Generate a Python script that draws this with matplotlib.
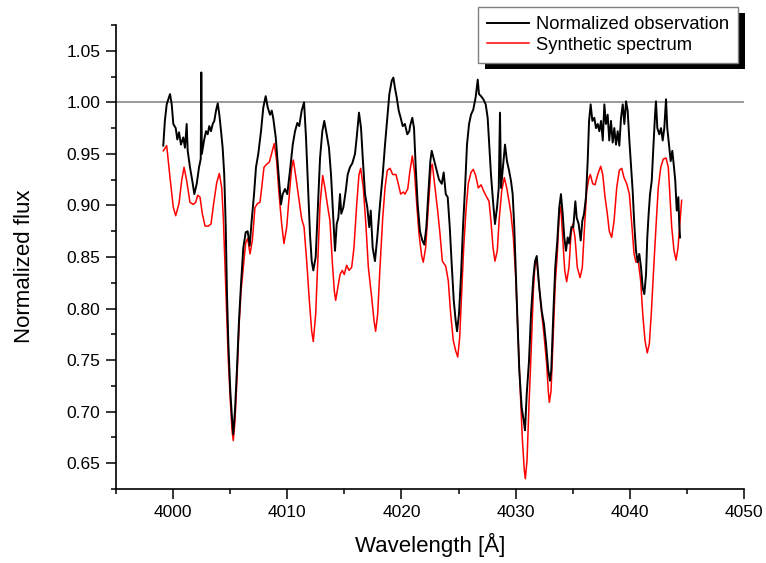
import matplotlib
matplotlib.use("Agg")
import matplotlib.pyplot as plt
from matplotlib.ticker import MultipleLocator, FormatStrFormatter
from matplotlib.patches import Rectangle

plt.rcParams['font.family'] = ['Liberation Sans', 'DejaVu Sans']

# ---- data ----
obs_wl = [3999.14, 3999.28, 3999.44, 3999.58, 3999.73, 3999.88, 4000.02, 4000.23, 4000.37, 4000.52,
          4000.69, 4000.89, 4001.04, 4001.19, 4001.28, 4001.48, 4001.68, 4001.86, 4002.07, 4002.27,
          4002.42, 4002.47, 4002.52, 4002.71, 4002.88, 4003.03, 4003.17, 4003.32, 4003.47, 4003.61,
          4003.76, 4003.91, 4004.05, 4004.20, 4004.34, 4004.48, 4004.61, 4004.72, 4004.84, 4005.01,
          4005.16, 4005.27, 4005.42, 4005.60, 4005.77, 4005.95, 4006.15, 4006.36, 4006.53, 4006.71,
          4006.88, 4007.09, 4007.26, 4007.46, 4007.70, 4007.90, 4008.11, 4008.29, 4008.49, 4008.64,
          4008.78, 4008.99, 4009.21, 4009.45, 4009.60, 4009.80, 4010.00, 4010.24, 4010.48, 4010.68,
          4010.88, 4011.05, 4011.26, 4011.47, 4011.64, 4011.82, 4011.99, 4012.14, 4012.28, 4012.49,
          4012.67, 4012.87, 4013.07, 4013.24, 4013.45, 4013.65, 4013.83, 4014.03, 4014.18, 4014.33,
          4014.47, 4014.62, 4014.73, 4014.91, 4015.12, 4015.29, 4015.49, 4015.70, 4015.93, 4016.08,
          4016.28, 4016.46, 4016.61, 4016.81, 4017.01, 4017.18, 4017.31, 4017.48, 4017.68, 4017.88,
          4018.12, 4018.36, 4018.56, 4018.76, 4018.94, 4019.15, 4019.29, 4019.43, 4019.58, 4019.76,
          4019.93, 4020.11, 4020.30, 4020.51, 4020.69, 4020.75, 4020.95, 4021.10, 4021.25, 4021.42,
          4021.62, 4021.83, 4022.00, 4022.18, 4022.35, 4022.53, 4022.65, 4022.88, 4023.09, 4023.29,
          4023.53, 4023.70, 4023.88, 4024.05, 4024.23, 4024.40, 4024.58, 4024.75, 4024.87, 4025.04,
          4025.22, 4025.39, 4025.57, 4025.74, 4025.92, 4026.09, 4026.29, 4026.50, 4026.68, 4026.79,
          4026.97, 4027.17, 4027.38, 4027.55, 4027.69, 4027.84, 4028.02, 4028.19, 4028.37, 4028.52,
          4028.63, 4028.72, 4028.89, 4029.07, 4029.24, 4029.42, 4029.59, 4029.74, 4029.88, 4030.03,
          4030.18, 4030.32, 4030.53, 4030.71, 4030.82, 4030.97, 4031.17, 4031.35, 4031.55, 4031.70,
          4031.85, 4032.07, 4032.28, 4032.48, 4032.66, 4032.86, 4033.01, 4033.12, 4033.30, 4033.47,
          4033.65, 4033.82, 4033.97, 4034.12, 4034.26, 4034.41, 4034.56, 4034.70, 4034.88, 4035.05,
          4035.23, 4035.35, 4035.52, 4035.70, 4035.84, 4035.99, 4036.16, 4036.31, 4036.43, 4036.57,
          4036.72, 4036.89, 4037.04, 4037.19, 4037.33, 4037.48, 4037.63, 4037.77, 4037.91, 4038.06,
          4038.20, 4038.35, 4038.50, 4038.64, 4038.79, 4038.94, 4039.08, 4039.23, 4039.38, 4039.52,
          4039.67, 4039.81, 4039.96, 4040.10, 4040.25, 4040.39, 4040.54, 4040.69, 4040.83, 4040.98,
          4041.13, 4041.27, 4041.42, 4041.53, 4041.65, 4041.77, 4041.92, 4042.06, 4042.21, 4042.29,
          4042.41, 4042.58, 4042.73, 4042.88, 4043.02, 4043.17, 4043.28, 4043.43, 4043.58, 4043.72,
          4043.87, 4043.98, 4044.11, 4044.25, 4044.33, 4044.40]
obs_flux = [0.958, 0.982, 0.998, 1.003, 1.008, 0.998, 0.979, 0.975, 0.964, 0.971,
            0.959, 0.966, 0.956, 0.979, 0.953, 0.937, 0.924, 0.911, 0.921, 0.937,
            0.945, 1.029, 0.950, 0.963, 0.972, 0.969, 0.977, 0.972, 0.979, 0.982,
            0.992, 0.999, 0.988, 0.972, 0.956, 0.930, 0.879, 0.814, 0.766, 0.720,
            0.694, 0.678, 0.701, 0.743, 0.788, 0.824, 0.859, 0.874, 0.875, 0.861,
            0.885, 0.911, 0.937, 0.950, 0.972, 0.995, 1.006, 0.995, 0.988, 0.992,
            0.984, 0.966, 0.934, 0.901, 0.911, 0.916, 0.911, 0.934, 0.959, 0.972,
            0.980, 0.977, 0.992, 1.000, 0.966, 0.917, 0.872, 0.846, 0.837, 0.850,
            0.895, 0.946, 0.972, 0.982, 0.969, 0.956, 0.930, 0.888, 0.856, 0.882,
            0.888, 0.911, 0.892, 0.898, 0.914, 0.930, 0.937, 0.941, 0.950, 0.966,
            0.990, 0.975, 0.946, 0.911, 0.898, 0.879, 0.895, 0.859, 0.846, 0.869,
            0.901, 0.930, 0.959, 0.985, 1.008, 1.021, 1.024, 1.014, 1.005, 0.992,
            0.985, 0.977, 0.979, 0.969, 0.972, 0.977, 0.985, 0.975, 0.937, 0.901,
            0.875, 0.866, 0.862, 0.879, 0.911, 0.943, 0.953, 0.943, 0.934, 0.925,
            0.921, 0.932, 0.911, 0.908, 0.879, 0.843, 0.808, 0.788, 0.778, 0.795,
            0.833, 0.879, 0.917, 0.959, 0.979, 0.988, 0.993, 1.005, 1.022, 1.008,
            1.006, 1.003, 0.998, 0.985, 0.959, 0.930, 0.904, 0.882, 0.898, 0.917,
            0.990, 0.917, 0.937, 0.959, 0.943, 0.934, 0.924, 0.911, 0.879, 0.830,
            0.782, 0.740, 0.704, 0.691, 0.682, 0.717, 0.749, 0.795, 0.830, 0.846,
            0.851, 0.820, 0.798, 0.785, 0.766, 0.740, 0.730, 0.740, 0.795, 0.840,
            0.866, 0.898, 0.911, 0.892, 0.869, 0.856, 0.869, 0.863, 0.879, 0.879,
            0.904, 0.888, 0.882, 0.866, 0.885, 0.892, 0.908, 0.943, 0.982, 0.998,
            0.982, 0.985, 0.975, 0.979, 0.972, 0.982, 0.963, 0.998, 0.979, 0.988,
            0.963, 0.982, 0.961, 0.975, 0.959, 0.972, 0.958, 0.985, 0.998, 0.979,
            1.001, 0.992, 0.963, 0.940, 0.914, 0.882, 0.856, 0.845, 0.853, 0.840,
            0.820, 0.814, 0.833, 0.869, 0.892, 0.911, 0.924, 0.956, 0.988, 1.001,
            0.975, 0.969, 0.975, 0.963, 0.975, 1.003, 0.975, 0.959, 0.943, 0.953,
            0.937, 0.924, 0.895, 0.908, 0.882, 0.869]

syn_wl = [3999.14, 3999.44, 3999.73, 4000.02, 4000.23, 4000.52, 4000.75, 4000.96, 4001.19, 4001.48,
          4001.77, 4001.98, 4002.16, 4002.36, 4002.56, 4002.80, 4003.08, 4003.32, 4003.58, 4003.82,
          4004.05, 4004.26, 4004.40, 4004.55, 4004.70, 4004.84, 4005.01, 4005.16, 4005.27, 4005.42,
          4005.60, 4005.77, 4005.95, 4006.15, 4006.36, 4006.53, 4006.74, 4006.94, 4007.17, 4007.41,
          4007.61, 4007.76, 4007.96, 4008.20, 4008.43, 4008.69, 4008.86, 4009.07, 4009.28, 4009.51,
          4009.71, 4009.95, 4010.18, 4010.39, 4010.53, 4010.76, 4011.05, 4011.26, 4011.47, 4011.70,
          4011.93, 4012.14, 4012.28, 4012.49, 4012.67, 4012.87, 4013.10, 4013.30, 4013.51, 4013.74,
          4013.94, 4014.12, 4014.24, 4014.42, 4014.62, 4014.82, 4014.99, 4015.20, 4015.41, 4015.64,
          4015.84, 4016.08, 4016.28, 4016.43, 4016.66, 4016.90, 4017.10, 4017.39, 4017.60, 4017.74,
          4017.92, 4018.12, 4018.36, 4018.56, 4018.76, 4019.00, 4019.23, 4019.52, 4019.72, 4019.93,
          4020.16, 4020.30, 4020.55, 4020.75, 4020.95, 4021.13, 4021.34, 4021.54, 4021.77, 4021.91,
          4022.12, 4022.35, 4022.59, 4022.70, 4022.94, 4023.17, 4023.38, 4023.58, 4023.88, 4024.10,
          4024.31, 4024.54, 4024.75, 4024.93, 4025.10, 4025.28, 4025.45, 4025.65, 4025.85, 4026.09,
          4026.29, 4026.50, 4026.73, 4026.97, 4027.20, 4027.47, 4027.67, 4027.84, 4028.02, 4028.19,
          4028.39, 4028.57, 4028.78, 4029.01, 4029.22, 4029.42, 4029.59, 4029.80, 4030.01, 4030.18,
          4030.38, 4030.58, 4030.76, 4030.85, 4031.00, 4031.17, 4031.35, 4031.55, 4031.70, 4031.85,
          4032.07, 4032.28, 4032.48, 4032.72, 4032.86, 4032.95, 4033.10, 4033.30, 4033.47, 4033.65,
          4033.82, 4033.95, 4034.12, 4034.30, 4034.47, 4034.67, 4034.85, 4035.00, 4035.20, 4035.40,
          4035.64, 4035.84, 4036.01, 4036.22, 4036.43, 4036.54, 4036.75, 4036.95, 4037.19, 4037.45,
          4037.63, 4037.83, 4038.03, 4038.20, 4038.41, 4038.62, 4038.85, 4039.08, 4039.29, 4039.49,
          4039.73, 4039.96, 4040.17, 4040.37, 4040.54, 4040.74, 4040.95, 4041.13, 4041.33, 4041.53,
          4041.71, 4041.88, 4042.06, 4042.29, 4042.49, 4042.71, 4042.93, 4043.17, 4043.37, 4043.52,
          4043.67, 4043.87, 4044.05, 4044.22, 4044.40, 4044.54]
syn_flux = [0.953, 0.958, 0.927, 0.898, 0.890, 0.902, 0.924, 0.937, 0.924, 0.903,
            0.901, 0.903, 0.910, 0.908, 0.892, 0.880, 0.880, 0.882, 0.904, 0.922,
            0.931, 0.917, 0.888, 0.840, 0.791, 0.749, 0.711, 0.682, 0.672, 0.691,
            0.733, 0.782, 0.817, 0.840, 0.864, 0.868, 0.853, 0.866, 0.898, 0.902,
            0.903, 0.917, 0.937, 0.940, 0.942, 0.953, 0.960, 0.943, 0.911, 0.882,
            0.863, 0.879, 0.911, 0.937, 0.944, 0.927, 0.904, 0.887, 0.879, 0.846,
            0.808, 0.778, 0.768, 0.795, 0.846, 0.901, 0.929, 0.917, 0.901, 0.885,
            0.846, 0.817, 0.808, 0.820, 0.833, 0.837, 0.833, 0.842, 0.837, 0.840,
            0.859, 0.901, 0.930, 0.936, 0.917, 0.879, 0.840, 0.811, 0.788, 0.778,
            0.795, 0.840, 0.888, 0.917, 0.934, 0.936, 0.930, 0.930, 0.921, 0.911,
            0.913, 0.911, 0.916, 0.934, 0.948, 0.934, 0.901, 0.872, 0.851, 0.845,
            0.859, 0.898, 0.937, 0.940, 0.917, 0.895, 0.872, 0.846, 0.841, 0.827,
            0.795, 0.769, 0.759, 0.753, 0.772, 0.817, 0.859, 0.895, 0.921, 0.932,
            0.935, 0.929, 0.917, 0.920, 0.914, 0.908, 0.904, 0.885, 0.859, 0.846,
            0.856, 0.888, 0.914, 0.927, 0.917, 0.904, 0.892, 0.869, 0.830, 0.782,
            0.727, 0.675, 0.643, 0.635, 0.653, 0.707, 0.756, 0.817, 0.843, 0.846,
            0.820, 0.795, 0.775, 0.746, 0.720, 0.709, 0.720, 0.775, 0.824, 0.853,
            0.892, 0.899, 0.869, 0.837, 0.826, 0.840, 0.872, 0.882, 0.869, 0.840,
            0.830, 0.840, 0.875, 0.914, 0.927, 0.930, 0.921, 0.920, 0.930, 0.938,
            0.930, 0.908, 0.892, 0.875, 0.869, 0.885, 0.917, 0.934, 0.936, 0.927,
            0.921, 0.911, 0.882, 0.853, 0.845, 0.846, 0.827, 0.795, 0.769, 0.757,
            0.766, 0.795, 0.833, 0.879, 0.917, 0.937, 0.945, 0.946, 0.937, 0.908,
            0.879, 0.856, 0.847, 0.859, 0.885, 0.905]

labels = ["Normalized observation", "Synthetic spectrum"]
x_ticks = [4000, 4010, 4020, 4030, 4040, 4050]
y_ticks = [0.65, 0.70, 0.75, 0.80, 0.85, 0.90, 0.95, 1.00, 1.05]
continuum = 1.0

# ---- figure ----
W, H = 766, 563
fig = plt.figure(figsize=(W / 100, H / 100), dpi=100)
fig.patch.set_facecolor('white')
ax = fig.add_axes([116 / W, 1 - 489 / H, (744 - 116) / W, (489 - 25) / H])
ax.set_facecolor('none')

ax.axhline(continuum, color='#808080', lw=1.1, zorder=1)
l1, = ax.plot(obs_wl, obs_flux, color='black', lw=1.4, zorder=3)
l2, = ax.plot(syn_wl, syn_flux, color='#ff0000', lw=1.1, zorder=2)

ax.set_xlim(3995, 4050)
ax.set_ylim(0.625, 1.075)
ax.set_xticks(x_ticks)
ax.set_yticks(y_ticks)
ax.xaxis.set_minor_locator(MultipleLocator(5))
ax.yaxis.set_minor_locator(MultipleLocator(0.025))
ax.yaxis.set_major_formatter(FormatStrFormatter('%.2f'))

for s in ['top', 'right']:
    ax.spines[s].set_visible(False)
for s in ['left', 'bottom']:
    ax.spines[s].set_linewidth(1.2)
    ax.spines[s].set_color('black')

ax.tick_params(which='major', direction='out', length=7.2, width=1.1, labelsize=12.5, pad=4)
ax.tick_params(which='minor', direction='out', length=3.6, width=1.1)

ax.set_xlabel("Wavelength [Å]", fontsize=16)
ax.set_ylabel("Normalized flux", fontsize=16)
ax.xaxis.set_label_coords(0.5, -0.095)
ax.yaxis.set_label_coords(-0.129, 0.48)

leg = fig.legend([l1, l2], labels, loc='upper left',
                 bbox_to_anchor=(478 / W, 1 - 7 / H), bbox_transform=fig.transFigure,
                 borderaxespad=0, fontsize=13.2, frameon=True, fancybox=False,
                 handlelength=2.3, handletextpad=0.35, borderpad=0.5,
                 labelspacing=0.2)
leg.get_frame().set_edgecolor('#7f7f7f')
leg.get_frame().set_linewidth(1.0)
leg.get_frame().set_facecolor('white')
leg.get_frame().set_alpha(1)
leg.set_zorder(5)

fig.canvas.draw()
bb = leg.get_frame().get_window_extent().transformed(fig.transFigure.inverted())
dx, dy = 7 / W, 6 / H
shadow = Rectangle((bb.x0 + dx, bb.y0 - dy), bb.width, bb.height,
                   transform=fig.transFigure, facecolor='black', edgecolor='none', zorder=4)
fig.patches.append(shadow)

fig.savefig("out.png", dpi=100)
